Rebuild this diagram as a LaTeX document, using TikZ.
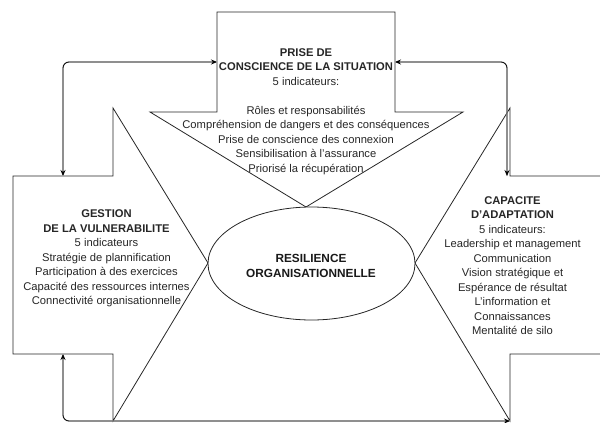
\documentclass[tikz,border=0pt]{standalone}
\usepackage{fontspec}
\setmainfont{Liberation Sans}
\usetikzlibrary{arrows.meta,shapes.geometric}
\begin{document}
\begin{tikzpicture}[x=1pt,y=-1pt,
  shapeline/.style={draw=black!85, line width=0.8pt, line join=miter},
  link/.style={draw=black, line width=0.8pt, rounded corners=6pt,
    {Stealth[length=6pt,width=5pt]}-{Stealth[length=6pt,width=5pt]}},
  linkshadow/.style={draw=black!20, line width=1.3pt, rounded corners=6pt},
  txt/.style={align=center, font=\fontsize{11.2}{14.5}\selectfont, text=black!85, inner sep=0pt},
  restxt/.style={align=center, font=\fontsize{11.8}{15}\selectfont\bfseries, text=black!90, inner sep=0pt}
]
\useasboundingbox (0,0) rectangle (600,423);

% connector end points
\coordinate (gTop) at (63,176);
\coordinate (pLeft) at (217,62);
\coordinate (pRight) at (395,62);
\coordinate (cTop) at (507,176);
\coordinate (gBot) at (63,354);
\coordinate (cBot) at (510,421);

% PRISE DE CONSCIENCE (down arrow)
\draw[shapeline] (217,12) -- (395,12) -- (395,112) -- (463,112) -- (306,207)
  -- (150,112) -- (217,112) -- cycle;
% GESTION (right arrow)
\draw[shapeline] (13,176) -- (113,176) -- (113,108) -- (208,263) -- (113,421)
  -- (113,354) -- (13,354) -- cycle;
% CAPACITE (left arrow)
\draw[shapeline] (600,176) -- (510,176) -- (510,108) -- (415,263) -- (510,421)
  -- (510,354) -- (600,354);

% central ellipse
\node[ellipse, draw=black!85, line width=0.8pt, fill=white, minimum width=207pt,
  minimum height=113pt, inner sep=0pt] (res) at (311.5,263.5) {};
\node[restxt] (resT) at (311,265.5) {RESILIENCE\\ORGANISATIONNELLE};

% texts
\node[txt] (prise) at (306,111.5) {{\bfseries PRISE DE}\\{\bfseries CONSCIENCE DE LA SITUATION}\\5 indicateurs:\\[14.5pt]
  Rôles et responsabilités\\Compréhension de dangers et des conséquences\\
  Prise de conscience des connexion\\Sensibilisation à l'assurance\\Priorisé la récupération};
\node[txt] (gestion) at (106.5,258.5) {{\bfseries GESTION}\\{\bfseries DE LA VULNERABILITE}\\5 indicateurs\\
  Stratégie de plannification\\Participation à des exercices\\
  Capacité des ressources internes\\Connectivité organisationnelle};
\node[txt] (capa) at (512.5,265.5) {{\bfseries CAPACITE}\\{\bfseries D'ADAPTATION}\\5 indicateurs:\\
  Leadership et management\\Communication\\Vision stratégique et\\Espérance de résultat\\
  L'information et\\Connaissances\\Mentalité de silo};

% connectors (with light shadow)
\draw[linkshadow, shift={(1.3,1.3)}] (gTop) |- (pLeft);
\draw[linkshadow, shift={(-1.3,1.3)}] (pRight) -| (cTop);
\draw[linkshadow, shift={(1.3,-1.3)}] (gBot) |- (cBot);
\draw[link] (gTop) |- (pLeft);
\draw[link] (pRight) -| (cTop);
\draw[link] (gBot) |- (cBot);
\end{tikzpicture}
\end{document}
